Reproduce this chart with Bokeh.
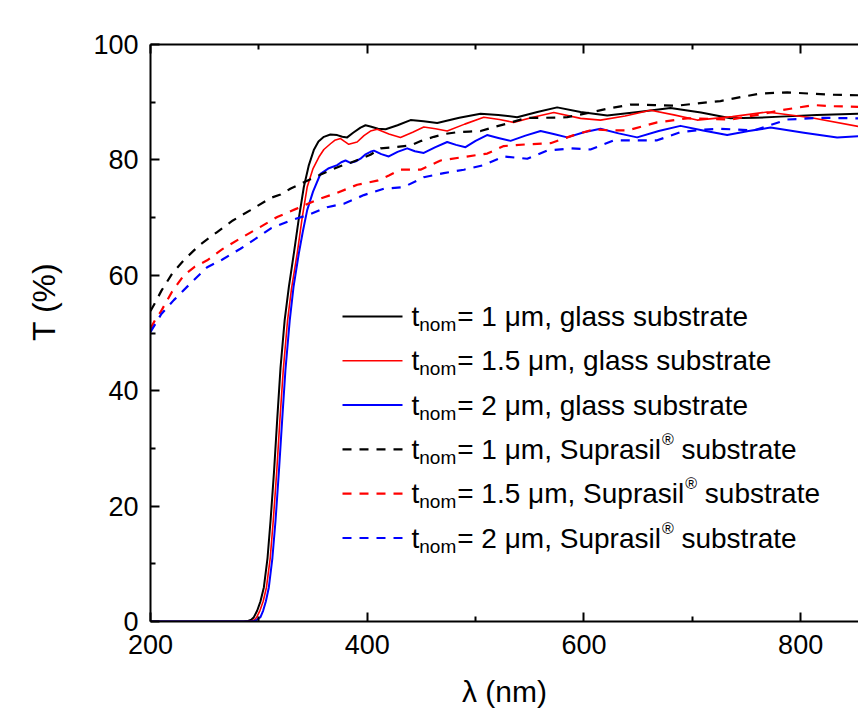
from bokeh.plotting import figure
from bokeh.models import LinearAxis, FixedTicker, Label, Range1d
from bokeh.embed import file_html
from bokeh.resources import INLINE

# ---------------- data ----------------
wl_g1 = [200, 286, 290, 293, 295.4, 298.5, 301.5, 304.6, 308, 310.8, 314, 316.9, 320, 323.8, 327.7,
         332.3, 337, 341.5, 346, 350.7, 355, 360, 366, 372.3, 377, 381.5, 387, 393.8, 398.4, 403,
         410, 417, 428, 440, 452, 464.6, 485, 504.6, 521, 538.4, 557, 575.3, 596.9, 621.5, 650,
         679.9, 708, 735.3, 758, 781.5, 815, 853]
T_g1 = [0, 0, 0.1, 0.3, 0.75, 1.9, 3.5, 5.9, 11, 17.5, 26, 34.9, 44, 52.2, 58,
        63.8, 70, 75.3, 79, 81.7, 83.2, 84.0, 84.4, 84.3, 84.0, 83.9, 84.7, 85.6, 86.0, 85.8,
        85.4, 85.3, 86.0, 86.9, 86.7, 86.4, 87.3, 88.0, 87.8, 87.4, 88.3, 89.1, 88.3, 87.7, 88.3,
        89.0, 88.2, 87.2, 87.3, 87.5, 87.8, 88.0]

wl_g15 = [200, 289, 293, 296, 298, 301, 304, 307, 310.5, 313.3, 316.5, 319.4, 322.5, 326.5, 330,
          335.4, 340, 344.6, 350, 355.4, 360, 366.1, 370, 375.4, 379, 383, 390.7, 397, 403, 409.2,
          420, 430.7, 442, 452.2, 463, 473.8, 490, 507.6, 522, 535.1, 553, 572.2, 596.9, 615.3, 638,
          661.5, 683, 704.5, 737, 769.1, 810, 853]
T_g15 = [0, 0, 0.1, 0.3, 0.75, 1.9, 3.5, 5.9, 11, 17.5, 26, 34.9, 43.5, 52.2, 57.5,
         63.8, 70, 75.3, 78.5, 80.5, 81.8, 82.8, 83.4, 83.7, 83.2, 82.7, 83.1, 84.2, 85.0, 85.3,
         84.5, 83.9, 84.8, 85.7, 85.4, 85.0, 86.2, 87.4, 87.0, 86.5, 87.4, 88.2, 87.2, 86.9, 87.6,
         88.6, 87.8, 86.9, 87.5, 88.3, 87.3, 85.8]

wl_g2 = [200, 292, 296, 298, 301.5, 304, 306.5, 309.2, 312.5, 315.4, 318.5, 321.5, 324.5, 328.5, 332,
         336.9, 340.5, 344.6, 350, 356.9, 364, 372.3, 376, 380, 384.6, 389, 393.8, 398, 403, 406.2,
         413, 419.9, 428, 436.9, 444, 452.2, 463, 473.8, 482, 490.7, 500, 510.6, 521, 532.3, 546,
         560, 572, 584.6, 600, 615.3, 632, 649.1, 669, 689.1, 710, 732.2, 752, 772.2, 803, 833.7, 853]
T_g2 = [0, 0, 0.1, 0.3, 0.75, 1.9, 3.5, 5.9, 11, 17.5, 26, 34.9, 43.5, 52.2, 58,
        63.8, 67.5, 71.3, 74.5, 77.6, 78.5, 79.1, 79.6, 79.9, 79.5, 79.7, 80.2, 80.9, 81.4, 81.6,
        81.0, 80.6, 81.4, 82.0, 81.5, 81.2, 82.2, 83.1, 82.6, 82.2, 83.3, 84.3, 83.8, 83.3, 84.2,
        85.0, 84.5, 83.9, 84.8, 85.4, 84.6, 83.9, 85.0, 85.9, 85.1, 84.3, 85.0, 85.6, 84.7, 83.9, 84.1]

wl_s1 = [200, 205, 210, 220, 230.7, 245, 261.5, 276, 292.3, 310.8,
         320, 329, 344.6, 355, 366, 375, 384.6, 394, 403, 412.3,
         425, 440, 450, 461.5, 472, 483, 494, 504.6, 517, 529.2,
         547.7, 565, 584.6, 603, 620, 643, 665, 686, 705, 726,
         745, 763, 787.6, 808, 827.6, 853]
T_s1 = [53.8, 55.5, 57.3, 60.3, 62.6, 65.2, 67.5, 69.5, 71.3, 73.4,
        74.0, 75.0, 76.4, 77.3, 78.2, 78.9, 79.5, 80.2, 80.9, 82.0,
        82.2, 82.5, 83.3, 84.0, 84.5, 84.8, 84.9, 85.0, 85.7, 86.3,
        87.3, 87.3, 87.4, 88.1, 88.8, 89.6, 89.5, 89.4, 89.8, 90.2,
        90.9, 91.5, 91.7, 91.5, 91.3, 91.2]

wl_s15 = [200, 205, 209.2, 220, 230.7, 241, 252.3, 266, 283, 301.5,
          316.9, 335.4, 353.8, 372.3, 390.8, 409.2, 420, 430.7, 449.2, 467.7,
          489.2, 510.8, 526, 547.7, 569.2, 590.7, 609.1, 625, 640, 667.6,
          695.3, 715, 735.3, 760, 781.5, 812, 830, 853]
T_s15 = [50.8, 52.5, 53.6, 57.2, 60.0, 61.5, 62.6, 64.5, 66.4, 68.4,
         70.1, 71.6, 73.1, 74.3, 75.7, 76.4, 77.3, 78.3, 78.3, 79.9,
         80.5, 81.1, 82.4, 82.7, 82.9, 84.3, 85.3, 85.1, 85.1, 86.5,
         87.2, 87.1, 87.0, 87.8, 88.6, 89.5, 89.3, 89.2]

wl_s2 = [200, 204.6, 210, 221.5, 236.9, 252.3, 266, 283, 301.5, 310.8,
         329.2, 344.6, 363, 378.4, 396.9, 415.3, 433.8, 452.2, 470.7, 489.2,
         507.6, 526, 547.7, 566, 587.6, 606, 627.6, 647, 667.6, 689,
         707, 726, 756.7, 787.6, 818.4, 853]
T_s2 = [50.2, 51.6, 53.3, 55.7, 58.6, 61.4, 62.7, 64.6, 66.9, 68.1,
        69.5, 70.4, 71.8, 72.4, 73.9, 75.0, 75.3, 77.0, 77.7, 78.3,
        79.1, 80.6, 80.2, 81.6, 82.0, 81.8, 83.4, 83.4, 83.4, 84.8,
        85.2, 85.4, 85.1, 87.0, 87.3, 87.2]

x_ticks = [200, 400, 600, 800]
x_minor = [300, 500, 700]
y_ticks = [0, 20, 40, 60, 80, 100]
y_minor = [10, 30, 50, 70, 90]

series = [  # (x, y, colour, dashed, thickness label, substrate)
    (wl_g1, T_g1, "#000000", False, "1", "glass"),
    (wl_g15, T_g15, "#FF0000", False, "1.5", "glass"),
    (wl_g2, T_g2, "#0000FF", False, "2", "glass"),
    (wl_s1, T_s1, "#000000", True, "1", "Suprasil"),
    (wl_s15, T_s15, "#FF0000", True, "1.5", "Suprasil"),
    (wl_s2, T_s2, "#0000FF", True, "2", "Suprasil"),
]

# ---------------- layout ----------------
FONT = "Liberation Sans"
X0, X1 = 200, 853.4
W_CANVAS, H_CANVAS = 858, 712
B_LEFT, B_TOP, B_BOTTOM = 150, 44, 91
FW = W_CANVAS - B_LEFT
FH = H_CANVAS - B_TOP - B_BOTTOM
PXX = FW / (X1 - X0)
PXY = FH / 100.0
DASH = "9 8"

p = figure(width=W_CANVAS, height=H_CANVAS, x_range=Range1d(X0, X1), y_range=Range1d(0, 100),
           output_backend="svg", toolbar_location=None,
           min_border_left=B_LEFT, min_border_right=0, min_border_top=B_TOP,
           min_border_bottom=B_BOTTOM)
p.outline_line_color = None
p.xgrid.visible = False
p.ygrid.visible = False
p.background_fill_color = "white"
p.border_fill_color = "white"

bottom = p.below[0]
left = p.left[0]
top = LinearAxis()
p.add_layout(top, "above")

for ax in (bottom, top):
    ax.ticker = FixedTicker(ticks=x_ticks, minor_ticks=x_minor)
left.ticker = FixedTicker(ticks=y_ticks, minor_ticks=y_minor)
for ax in (bottom, top, left):
    ax.axis_line_width = 2
    ax.axis_line_color = "black"
    ax.major_tick_line_width = 2
    ax.minor_tick_line_width = 2
    ax.major_tick_in = 9
    ax.major_tick_out = 0
    ax.minor_tick_in = 5
    ax.minor_tick_out = 0
    ax.major_label_text_font = FONT
    ax.major_label_text_font_size = "27px"
    ax.major_label_text_color = "black"
    ax.axis_label_text_font = FONT
    ax.axis_label_text_font_style = "normal"
    ax.axis_label_text_color = "black"
bottom.major_label_standoff = 13
left.major_label_standoff = 12
top.major_label_text_font_size = "0px"
top.major_label_text_alpha = 0

# axis titles
bottom.axis_label = "\u03bb (nm)"
bottom.axis_label_text_font_size = "30px"
bottom.axis_label_standoff = 18
NB = "\u00a0" * 7   # shifts the centred title up along the axis, as in the reference
left.axis_label = NB + "T (%)"
left.axis_label_text_font_size = "32px"
left.axis_label_standoff = 28

for xs, ys, col, dashed, _, _ in series:
    if dashed:
        p.line(xs, ys, line_color=col, line_width=2.2, line_dash=DASH)
    else:
        p.line(xs, ys, line_color=col, line_width=1.6 if col == "#FF0000" else 2,
               line_join="round")

# ---------------- legend (built by hand for sub/superscripts) ----------------
AW = {' ': 278, 't': 278, 'n': 556, 'o': 556, 'm': 833, '=': 584, '1': 556, '.': 278,
      '5': 556, '2': 556, '\u03bc': 576, ',': 278, 'g': 556, 'l': 222, 'a': 556, 's': 500,
      'u': 556, 'b': 556, 'r': 333, 'e': 556, 'S': 667, 'p': 556, 'i': 222, '\u00ae': 737}


def tw(s, size):
    return sum(AW.get(c, 556) for c in s) * size / 1000.0


MAIN, SUB, SUP = 28, 19, 16
DY_MAIN, DY_SUB, DY_SUP = 0, -8, 10
leg_x0 = X0 + (342 - B_LEFT) / PXX
leg_x1 = X0 + (402 - B_LEFT) / PXX
leg_xt = X0 + (411 - B_LEFT) / PXX
ROW0, GAP = 316 - B_TOP, 44.3

for i, (xs, ys, col, dashed, th, sub) in enumerate(series):
    yrow = 100 - (ROW0 + i * GAP) / PXY
    if dashed:
        p.segment(x0=[leg_x0], y0=[yrow], x1=[leg_x1], y1=[yrow], line_color=col,
                  line_width=2.2, line_dash=DASH)
    else:
        p.segment(x0=[leg_x0], y0=[yrow], x1=[leg_x1], y1=[yrow], line_color=col,
                  line_width=1.6 if col == "#FF0000" else 2)
    common = dict(x=leg_xt, y=yrow, text_font=FONT, text_color="black",
                  text_align="left", text_baseline="alphabetic")
    off = 0.0
    p.add_layout(Label(text="t", text_font_size=f"{MAIN}px", x_offset=off, y_offset=DY_MAIN, **common))
    off += tw("t", MAIN)
    p.add_layout(Label(text="nom", text_font_size=f"{SUB}px", x_offset=off, y_offset=DY_SUB, **common))
    off += tw("nom", SUB) + 1
    if sub == "glass":
        s1 = f"= {th} \u03bcm, glass substrate"
        p.add_layout(Label(text=s1, text_font_size=f"{MAIN}px", x_offset=off, y_offset=DY_MAIN, **common))
    else:
        s1 = f"= {th} \u03bcm, Suprasil"
        p.add_layout(Label(text=s1, text_font_size=f"{MAIN}px", x_offset=off, y_offset=DY_MAIN, **common))
        off += tw(s1, MAIN) + 1
        p.add_layout(Label(text="\u00ae", text_font_size=f"{SUP}px", x_offset=off, y_offset=DY_SUP, **common))
        off += tw("\u00ae", SUP) + tw(" ", MAIN)
        p.add_layout(Label(text="substrate", text_font_size=f"{MAIN}px", x_offset=off,
                           y_offset=DY_MAIN, **common))

open("out.html", "w").write(file_html(p, INLINE))
